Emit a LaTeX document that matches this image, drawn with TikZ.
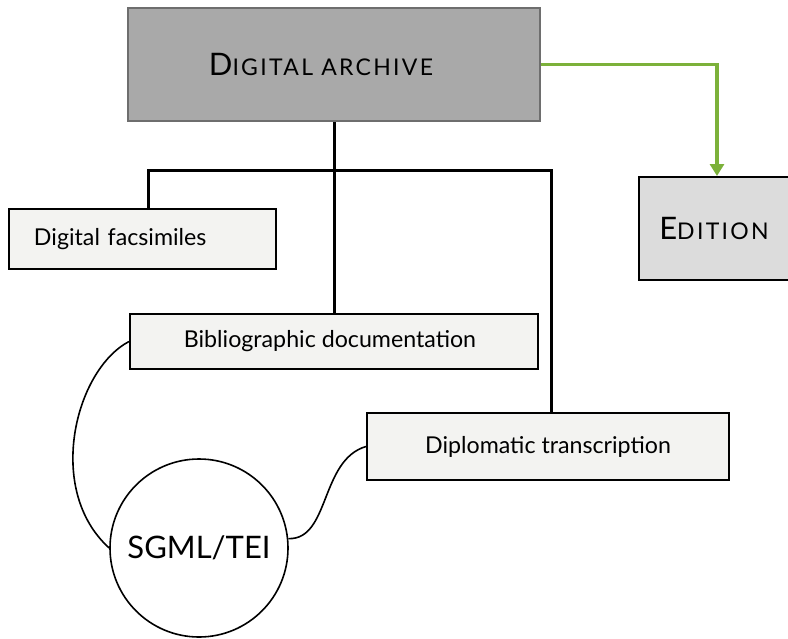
\documentclass[tikz,border=0pt]{standalone}
\usepackage{fontspec}
\setmainfont{Lato}
\usetikzlibrary{arrows.meta}
\definecolor{archivegray}{HTML}{A9A9A9}
\definecolor{archiveline}{HTML}{6E6E6E}
\definecolor{editiongray}{HTML}{DCDCDC}
\definecolor{boxfill}{HTML}{F3F3F1}
\definecolor{linkgreen}{HTML}{7CB13A}
\newcommand{\fakesc}[2]{#1{\fontsize{23}{27}\selectfont #2}}
\tikzset{
  lightbox/.style={draw=black, line width=2pt, fill=boxfill, inner sep=0pt,
    font=\fontsize{23.2}{27}\selectfont},
  treeline/.style={line width=3pt},
  softline/.style={line width=1.6pt}
}
\begin{document}
\begin{tikzpicture}[x=1pt,y=-1pt]
            % cadre de la page
            \useasboundingbox (0,0) rectangle (788,638);
            \node[draw=archiveline, line width=2pt, fill=archivegray, minimum width=412pt, minimum height=113pt,
                font=\fontsize{31}{35}\selectfont\addfontfeature{LetterSpace=10}] (archive) at (334,64.5)
                {\fakesc{D}{IGITAL ARCHIVE}\hspace*{26pt}};
            \node[draw=black, line width=2pt, fill=editiongray, minimum width=156pt, minimum height=103pt, anchor=west,
                font=\fontsize{31}{35}\selectfont\addfontfeature{LetterSpace=10}] (edition) at (638,228.5)
                {\fakesc{E}{DITION}\hspace*{6pt}};
            \node[lightbox, anchor=west, minimum height=60pt, text width=217pt, inner xsep=25pt, align=left] (facs) at (8,239)
                {Digital facsimiles};
            \node[lightbox, minimum width=408pt, minimum height=55pt] (biblio) at (334,341.5)
                {Bibliographic documentation\hspace*{8pt}};
            \node[lightbox, minimum width=362pt, minimum height=67pt] (diplo) at (548,446.5)
                {Diplomatic transcription};
            \node[draw, circle, line width=1.6pt, minimum size=178pt, inner sep=0pt,
                font=\fontsize{31}{35}\selectfont] (sgml) at (199,548) {SGML/TEI};
            \coordinate (fork) at (334,170);
            % arbre
            \draw[treeline] (archive.south) -- (biblio.north);
            \draw[treeline] ([xshift=5.5pt]facs.north) |- (fork) -| ([xshift=3pt]diplo.north);
            \draw[line width=3.5pt, linkgreen, -{Triangle[width=14pt,length=12pt]}] (archive.east) -| (edition.north);
            % liens vers SGML/TEI
            \draw[softline] (biblio.west) .. controls (75,370) and (45,490) .. (sgml.west);
            \draw[softline] (sgml.6) .. controls (330,540) and (320,460) .. (diplo.west);
        \end{tikzpicture}
\end{document}
